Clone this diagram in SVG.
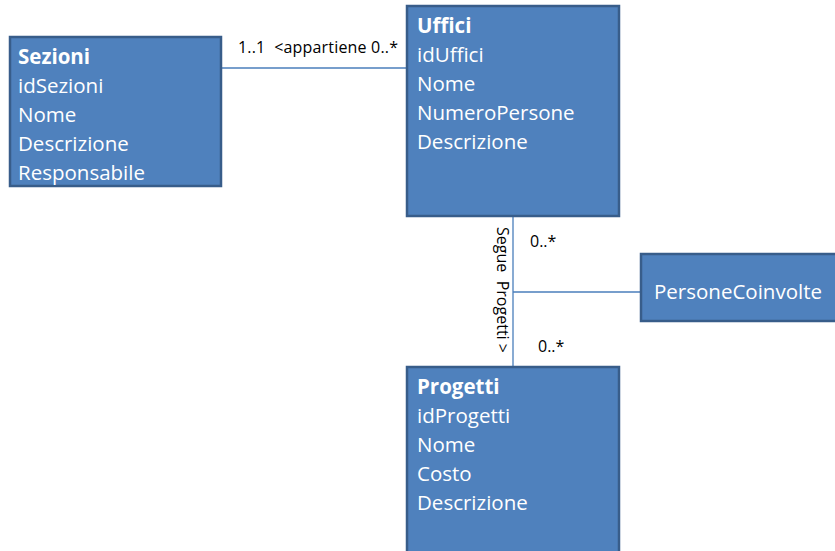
<svg xmlns="http://www.w3.org/2000/svg" width="835" height="551" viewBox="0 0 835 551">
<style>
.box{fill:#4f81bd;stroke:#385d8a;stroke-width:2.5}
.t{font-family:"Open Sans","Liberation Sans",sans-serif;font-size:20.5px;fill:#ffffff}
.b{font-weight:bold}
.lbl{font-family:"Open Sans","Liberation Sans",sans-serif;font-size:16px;fill:#000000;white-space:pre}
.ln{stroke:#4a7ebb;stroke-width:1.3;fill:none}
</style>
<rect width="835" height="551" fill="#ffffff"/>
<g id="connectors">
<line class="ln" x1="221" y1="68" x2="407" y2="68"/>
<line class="ln" x1="513" y1="216" x2="513" y2="367"/>
<line class="ln" x1="513" y1="292" x2="641" y2="292"/>
</g>
<g id="labels">
<text class="lbl" x="238" y="53" xml:space="preserve" textLength="160">1..1  &lt;appartiene 0..*</text>
<text class="lbl" transform="translate(497,227) rotate(90)" xml:space="preserve" textLength="126">Segue  Progetti &gt;</text>
<text class="lbl" x="530" y="247">0..*</text>
<text class="lbl" x="538" y="352">0..*</text>
</g>
<g id="Sezioni">
<rect class="box" x="10" y="37" width="211" height="149"/>
<text class="t b" x="18" y="64">Sezioni</text>
<text class="t" x="18" y="93">idSezioni</text>
<text class="t" x="18" y="122">Nome</text>
<text class="t" x="18" y="151">Descrizione</text>
<text class="t" x="18" y="180">Responsabile</text>
</g>
<g id="Uffici">
<rect class="box" x="407" y="6" width="212" height="210"/>
<text class="t b" x="417" y="33">Uffici</text>
<text class="t" x="417" y="62">idUffici</text>
<text class="t" x="417" y="91">Nome</text>
<text class="t" x="417" y="120">NumeroPersone</text>
<text class="t" x="417" y="149">Descrizione</text>
</g>
<g id="Progetti">
<rect class="box" x="407" y="367" width="212" height="200"/>
<text class="t b" x="417" y="394">Progetti</text>
<text class="t" x="417" y="423">idProgetti</text>
<text class="t" x="417" y="452">Nome</text>
<text class="t" x="417" y="481">Costo</text>
<text class="t" x="417" y="510">Descrizione</text>
</g>
<g id="PersoneCoinvolte">
<rect class="box" x="641" y="254" width="210" height="67"/>
<text class="t" x="654" y="299">PersoneCoinvolte</text>
</g>
</svg>
